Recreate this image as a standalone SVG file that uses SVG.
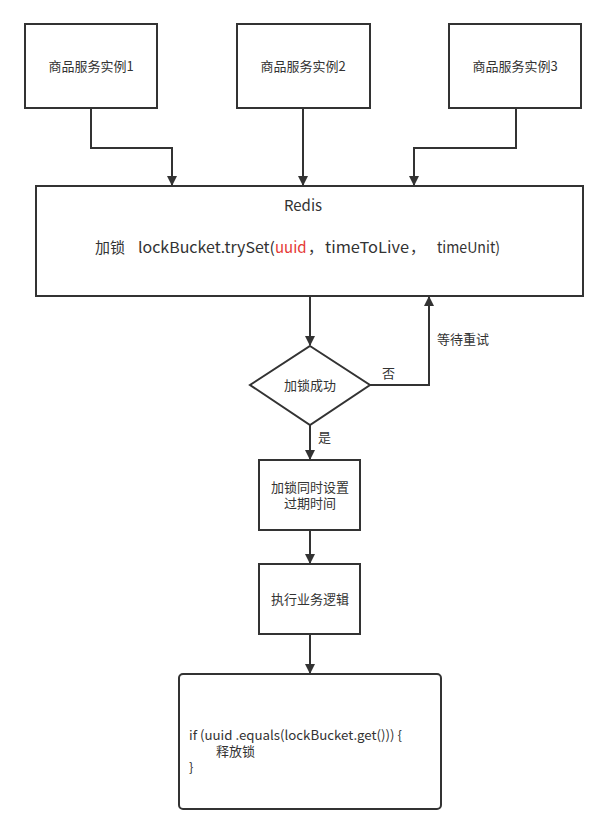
<svg xmlns="http://www.w3.org/2000/svg" width="609" height="834" viewBox="0 0 609 834">
<style>
.box{fill:#fff;stroke:#333;stroke-width:2}
.t{font-family:"Noto Sans CJK SC","Liberation Sans",sans-serif;font-size:13px;fill:#333}
.r{font-size:15px}
.c{stroke:#333;stroke-width:2;fill:none}
</style>
<defs>
<marker id="ah" markerWidth="10" markerHeight="12" refX="9" refY="5" orient="auto" markerUnits="userSpaceOnUse" viewBox="0 0 10 10">
<path d="M0,0 L10,5 L0,10 Z" fill="#333"/>
</marker>
</defs>
<rect width="609" height="834" fill="#fff"/>
<g id="connectors">
<path class="c" d="M91,108 V148 H172 V185" marker-end="url(#ah)"/>
<path class="c" d="M303,108 V185" marker-end="url(#ah)"/>
<path class="c" d="M516,108 V148 H414 V185" marker-end="url(#ah)"/>
<path class="c" d="M310,296 V345" marker-end="url(#ah)"/>
<path class="c" d="M370,385 H429 V297" marker-end="url(#ah)"/>
<path class="c" d="M310,425 V459" marker-end="url(#ah)"/>
<path class="c" d="M310,530 V563" marker-end="url(#ah)"/>
<path class="c" d="M310,634 V673" marker-end="url(#ah)"/>
<text class="t" x="382" y="378">否</text>
<text class="t" x="437" y="344">等待重试</text>
<text class="t" x="318" y="442">是</text>
</g>
<g id="n1"><rect class="box" x="25" y="24" width="132" height="84"/><text class="t" x="91" y="71" text-anchor="middle">商品服务实例1</text></g>
<g id="n2"><rect class="box" x="237" y="24" width="133" height="84"/><text class="t" x="303" y="71" text-anchor="middle">商品服务实例2</text></g>
<g id="n3"><rect class="box" x="449" y="24" width="132" height="84"/><text class="t" x="515" y="71" text-anchor="middle">商品服务实例3</text></g>
<g id="redis"><rect class="box" x="36" y="186" width="547" height="110"/>
<text class="t r" x="303" y="211" text-anchor="middle">Redis</text>
<text class="t r" y="253"><tspan x="95">加锁</tspan><tspan x="138" textLength="137" lengthAdjust="spacingAndGlyphs">lockBucket.trySet(</tspan><tspan x="275" fill="#e53935">uuid</tspan><tspan x="308">，</tspan><tspan x="325" textLength="84" lengthAdjust="spacingAndGlyphs">timeToLive</tspan><tspan x="410">，</tspan><tspan x="437" textLength="63" lengthAdjust="spacingAndGlyphs">timeUnit)</tspan></text>
</g>
<g id="decision"><polygon class="box" points="310,346 370,385 310,425 250,385"/><text class="t" x="310" y="390" text-anchor="middle">加锁成功</text></g>
<g id="setexp"><rect class="box" x="259" y="460" width="101" height="70"/><text class="t" x="310" y="492" text-anchor="middle">加锁同时设置</text><text class="t" x="310" y="508" text-anchor="middle">过期时间</text></g>
<g id="exec"><rect class="box" x="259" y="564" width="101" height="70"/><text class="t" x="310" y="604" text-anchor="middle">执行业务逻辑</text></g>
<g id="release"><rect class="box" x="179" y="674" width="262" height="135" rx="4"/>
<text class="t" x="189" y="740" textLength="213" lengthAdjust="spacingAndGlyphs">if (uuid .equals(lockBucket.get())) {</text>
<text class="t" x="216" y="756">释放锁</text>
<text class="t" x="189" y="772">}</text>
</g>
</svg>
